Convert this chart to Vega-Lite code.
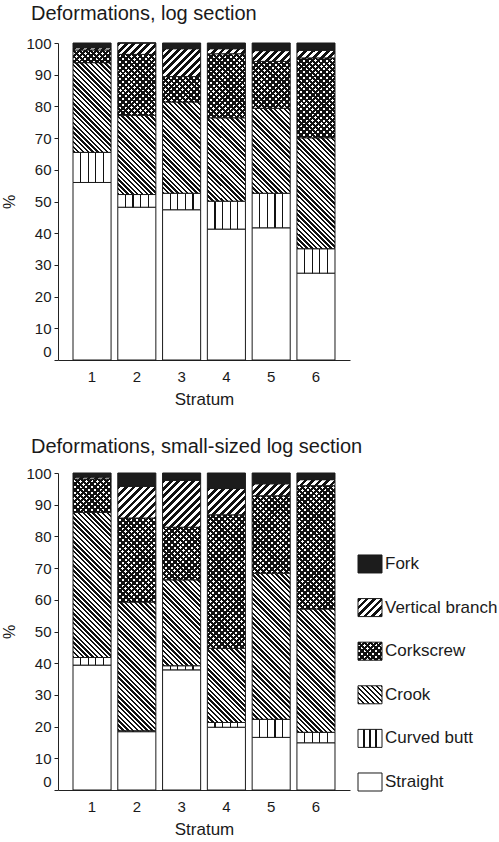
{
  "$schema": "https://vega.github.io/schema/vega-lite/v6.json",
  "background": "white",
  "padding": {"left": 1, "top": 4, "right": 0, "bottom": 0},
  "config": {
    "font": "Liberation Sans",
    "view": {"stroke": null},
    "axis": {"labelFont": "Liberation Sans", "titleFont": "Liberation Sans", "labelColor": "#1a1a1a", "titleColor": "#1a1a1a", "titleFontWeight": "normal", "domainColor": "#222", "tickColor": "#222", "grid": false},
    "title": {"font": "Liberation Sans", "fontSize": 20, "fontWeight": "normal", "color": "#1a1a1a", "anchor": "start", "frame": "group", "baseline": "alphabetic"}
  },
  "params": [
    {"name": "sBW", "value": [
      {"offset":0,"color":"#111"},{"offset":0.0125,"color":"#111"},{"offset":0.0125,"color":"#fff"},{"offset":0.025,"color":"#fff"},
      {"offset":0.025,"color":"#111"},{"offset":0.0375,"color":"#111"},{"offset":0.0375,"color":"#fff"},{"offset":0.05,"color":"#fff"},
      {"offset":0.05,"color":"#111"},{"offset":0.0625,"color":"#111"},{"offset":0.0625,"color":"#fff"},{"offset":0.075,"color":"#fff"},
      {"offset":0.075,"color":"#111"},{"offset":0.0875,"color":"#111"},{"offset":0.0875,"color":"#fff"},{"offset":0.1,"color":"#fff"},
      {"offset":0.1,"color":"#111"},{"offset":0.1125,"color":"#111"},{"offset":0.1125,"color":"#fff"},{"offset":0.125,"color":"#fff"},
      {"offset":0.125,"color":"#111"},{"offset":0.1375,"color":"#111"},{"offset":0.1375,"color":"#fff"},{"offset":0.15,"color":"#fff"},
      {"offset":0.15,"color":"#111"},{"offset":0.1625,"color":"#111"},{"offset":0.1625,"color":"#fff"},{"offset":0.175,"color":"#fff"},
      {"offset":0.175,"color":"#111"},{"offset":0.1875,"color":"#111"},{"offset":0.1875,"color":"#fff"},{"offset":0.2,"color":"#fff"},
      {"offset":0.2,"color":"#111"},{"offset":0.2125,"color":"#111"},{"offset":0.2125,"color":"#fff"},{"offset":0.225,"color":"#fff"},
      {"offset":0.225,"color":"#111"},{"offset":0.2375,"color":"#111"},{"offset":0.2375,"color":"#fff"},{"offset":0.25,"color":"#fff"},
      {"offset":0.25,"color":"#111"},{"offset":0.2625,"color":"#111"},{"offset":0.2625,"color":"#fff"},{"offset":0.275,"color":"#fff"},
      {"offset":0.275,"color":"#111"},{"offset":0.2875,"color":"#111"},{"offset":0.2875,"color":"#fff"},{"offset":0.3,"color":"#fff"},
      {"offset":0.3,"color":"#111"},{"offset":0.3125,"color":"#111"},{"offset":0.3125,"color":"#fff"},{"offset":0.325,"color":"#fff"},
      {"offset":0.325,"color":"#111"},{"offset":0.3375,"color":"#111"},{"offset":0.3375,"color":"#fff"},{"offset":0.35,"color":"#fff"},
      {"offset":0.35,"color":"#111"},{"offset":0.3625,"color":"#111"},{"offset":0.3625,"color":"#fff"},{"offset":0.375,"color":"#fff"},
      {"offset":0.375,"color":"#111"},{"offset":0.3875,"color":"#111"},{"offset":0.3875,"color":"#fff"},{"offset":0.4,"color":"#fff"},
      {"offset":0.4,"color":"#111"},{"offset":0.4125,"color":"#111"},{"offset":0.4125,"color":"#fff"},{"offset":0.425,"color":"#fff"},
      {"offset":0.425,"color":"#111"},{"offset":0.4375,"color":"#111"},{"offset":0.4375,"color":"#fff"},{"offset":0.45,"color":"#fff"},
      {"offset":0.45,"color":"#111"},{"offset":0.4625,"color":"#111"},{"offset":0.4625,"color":"#fff"},{"offset":0.475,"color":"#fff"},
      {"offset":0.475,"color":"#111"},{"offset":0.4875,"color":"#111"},{"offset":0.4875,"color":"#fff"},{"offset":0.5,"color":"#fff"},
      {"offset":0.5,"color":"#111"},{"offset":0.5125,"color":"#111"},{"offset":0.5125,"color":"#fff"},{"offset":0.525,"color":"#fff"},
      {"offset":0.525,"color":"#111"},{"offset":0.5375,"color":"#111"},{"offset":0.5375,"color":"#fff"},{"offset":0.55,"color":"#fff"},
      {"offset":0.55,"color":"#111"},{"offset":0.5625,"color":"#111"},{"offset":0.5625,"color":"#fff"},{"offset":0.575,"color":"#fff"},
      {"offset":0.575,"color":"#111"},{"offset":0.5875,"color":"#111"},{"offset":0.5875,"color":"#fff"},{"offset":0.6,"color":"#fff"},
      {"offset":0.6,"color":"#111"},{"offset":0.6125,"color":"#111"},{"offset":0.6125,"color":"#fff"},{"offset":0.625,"color":"#fff"},
      {"offset":0.625,"color":"#111"},{"offset":0.6375,"color":"#111"},{"offset":0.6375,"color":"#fff"},{"offset":0.65,"color":"#fff"},
      {"offset":0.65,"color":"#111"},{"offset":0.6625,"color":"#111"},{"offset":0.6625,"color":"#fff"},{"offset":0.675,"color":"#fff"},
      {"offset":0.675,"color":"#111"},{"offset":0.6875,"color":"#111"},{"offset":0.6875,"color":"#fff"},{"offset":0.7,"color":"#fff"},
      {"offset":0.7,"color":"#111"},{"offset":0.7125,"color":"#111"},{"offset":0.7125,"color":"#fff"},{"offset":0.725,"color":"#fff"},
      {"offset":0.725,"color":"#111"},{"offset":0.7375,"color":"#111"},{"offset":0.7375,"color":"#fff"},{"offset":0.75,"color":"#fff"},
      {"offset":0.75,"color":"#111"},{"offset":0.7625,"color":"#111"},{"offset":0.7625,"color":"#fff"},{"offset":0.775,"color":"#fff"},
      {"offset":0.775,"color":"#111"},{"offset":0.7875,"color":"#111"},{"offset":0.7875,"color":"#fff"},{"offset":0.8,"color":"#fff"},
      {"offset":0.8,"color":"#111"},{"offset":0.8125,"color":"#111"},{"offset":0.8125,"color":"#fff"},{"offset":0.825,"color":"#fff"},
      {"offset":0.825,"color":"#111"},{"offset":0.8375,"color":"#111"},{"offset":0.8375,"color":"#fff"},{"offset":0.85,"color":"#fff"},
      {"offset":0.85,"color":"#111"},{"offset":0.8625,"color":"#111"},{"offset":0.8625,"color":"#fff"},{"offset":0.875,"color":"#fff"},
      {"offset":0.875,"color":"#111"},{"offset":0.8875,"color":"#111"},{"offset":0.8875,"color":"#fff"},{"offset":0.9,"color":"#fff"},
      {"offset":0.9,"color":"#111"},{"offset":0.9125,"color":"#111"},{"offset":0.9125,"color":"#fff"},{"offset":0.925,"color":"#fff"},
      {"offset":0.925,"color":"#111"},{"offset":0.9375,"color":"#111"},{"offset":0.9375,"color":"#fff"},{"offset":0.95,"color":"#fff"},
      {"offset":0.95,"color":"#111"},{"offset":0.9625,"color":"#111"},{"offset":0.9625,"color":"#fff"},{"offset":0.975,"color":"#fff"},
      {"offset":0.975,"color":"#111"},{"offset":0.9875,"color":"#111"},{"offset":0.9875,"color":"#fff"},{"offset":1,"color":"#fff"}
    ]},
    {"name": "sBT", "value": [
      {"offset":0,"color":"#111"},{"offset":0.0125,"color":"#111"},{"offset":0.0125,"color":"transparent"},{"offset":0.025,"color":"transparent"},
      {"offset":0.025,"color":"#111"},{"offset":0.0375,"color":"#111"},{"offset":0.0375,"color":"transparent"},{"offset":0.05,"color":"transparent"},
      {"offset":0.05,"color":"#111"},{"offset":0.0625,"color":"#111"},{"offset":0.0625,"color":"transparent"},{"offset":0.075,"color":"transparent"},
      {"offset":0.075,"color":"#111"},{"offset":0.0875,"color":"#111"},{"offset":0.0875,"color":"transparent"},{"offset":0.1,"color":"transparent"},
      {"offset":0.1,"color":"#111"},{"offset":0.1125,"color":"#111"},{"offset":0.1125,"color":"transparent"},{"offset":0.125,"color":"transparent"},
      {"offset":0.125,"color":"#111"},{"offset":0.1375,"color":"#111"},{"offset":0.1375,"color":"transparent"},{"offset":0.15,"color":"transparent"},
      {"offset":0.15,"color":"#111"},{"offset":0.1625,"color":"#111"},{"offset":0.1625,"color":"transparent"},{"offset":0.175,"color":"transparent"},
      {"offset":0.175,"color":"#111"},{"offset":0.1875,"color":"#111"},{"offset":0.1875,"color":"transparent"},{"offset":0.2,"color":"transparent"},
      {"offset":0.2,"color":"#111"},{"offset":0.2125,"color":"#111"},{"offset":0.2125,"color":"transparent"},{"offset":0.225,"color":"transparent"},
      {"offset":0.225,"color":"#111"},{"offset":0.2375,"color":"#111"},{"offset":0.2375,"color":"transparent"},{"offset":0.25,"color":"transparent"},
      {"offset":0.25,"color":"#111"},{"offset":0.2625,"color":"#111"},{"offset":0.2625,"color":"transparent"},{"offset":0.275,"color":"transparent"},
      {"offset":0.275,"color":"#111"},{"offset":0.2875,"color":"#111"},{"offset":0.2875,"color":"transparent"},{"offset":0.3,"color":"transparent"},
      {"offset":0.3,"color":"#111"},{"offset":0.3125,"color":"#111"},{"offset":0.3125,"color":"transparent"},{"offset":0.325,"color":"transparent"},
      {"offset":0.325,"color":"#111"},{"offset":0.3375,"color":"#111"},{"offset":0.3375,"color":"transparent"},{"offset":0.35,"color":"transparent"},
      {"offset":0.35,"color":"#111"},{"offset":0.3625,"color":"#111"},{"offset":0.3625,"color":"transparent"},{"offset":0.375,"color":"transparent"},
      {"offset":0.375,"color":"#111"},{"offset":0.3875,"color":"#111"},{"offset":0.3875,"color":"transparent"},{"offset":0.4,"color":"transparent"},
      {"offset":0.4,"color":"#111"},{"offset":0.4125,"color":"#111"},{"offset":0.4125,"color":"transparent"},{"offset":0.425,"color":"transparent"},
      {"offset":0.425,"color":"#111"},{"offset":0.4375,"color":"#111"},{"offset":0.4375,"color":"transparent"},{"offset":0.45,"color":"transparent"},
      {"offset":0.45,"color":"#111"},{"offset":0.4625,"color":"#111"},{"offset":0.4625,"color":"transparent"},{"offset":0.475,"color":"transparent"},
      {"offset":0.475,"color":"#111"},{"offset":0.4875,"color":"#111"},{"offset":0.4875,"color":"transparent"},{"offset":0.5,"color":"transparent"},
      {"offset":0.5,"color":"#111"},{"offset":0.5125,"color":"#111"},{"offset":0.5125,"color":"transparent"},{"offset":0.525,"color":"transparent"},
      {"offset":0.525,"color":"#111"},{"offset":0.5375,"color":"#111"},{"offset":0.5375,"color":"transparent"},{"offset":0.55,"color":"transparent"},
      {"offset":0.55,"color":"#111"},{"offset":0.5625,"color":"#111"},{"offset":0.5625,"color":"transparent"},{"offset":0.575,"color":"transparent"},
      {"offset":0.575,"color":"#111"},{"offset":0.5875,"color":"#111"},{"offset":0.5875,"color":"transparent"},{"offset":0.6,"color":"transparent"},
      {"offset":0.6,"color":"#111"},{"offset":0.6125,"color":"#111"},{"offset":0.6125,"color":"transparent"},{"offset":0.625,"color":"transparent"},
      {"offset":0.625,"color":"#111"},{"offset":0.6375,"color":"#111"},{"offset":0.6375,"color":"transparent"},{"offset":0.65,"color":"transparent"},
      {"offset":0.65,"color":"#111"},{"offset":0.6625,"color":"#111"},{"offset":0.6625,"color":"transparent"},{"offset":0.675,"color":"transparent"},
      {"offset":0.675,"color":"#111"},{"offset":0.6875,"color":"#111"},{"offset":0.6875,"color":"transparent"},{"offset":0.7,"color":"transparent"},
      {"offset":0.7,"color":"#111"},{"offset":0.7125,"color":"#111"},{"offset":0.7125,"color":"transparent"},{"offset":0.725,"color":"transparent"},
      {"offset":0.725,"color":"#111"},{"offset":0.7375,"color":"#111"},{"offset":0.7375,"color":"transparent"},{"offset":0.75,"color":"transparent"},
      {"offset":0.75,"color":"#111"},{"offset":0.7625,"color":"#111"},{"offset":0.7625,"color":"transparent"},{"offset":0.775,"color":"transparent"},
      {"offset":0.775,"color":"#111"},{"offset":0.7875,"color":"#111"},{"offset":0.7875,"color":"transparent"},{"offset":0.8,"color":"transparent"},
      {"offset":0.8,"color":"#111"},{"offset":0.8125,"color":"#111"},{"offset":0.8125,"color":"transparent"},{"offset":0.825,"color":"transparent"},
      {"offset":0.825,"color":"#111"},{"offset":0.8375,"color":"#111"},{"offset":0.8375,"color":"transparent"},{"offset":0.85,"color":"transparent"},
      {"offset":0.85,"color":"#111"},{"offset":0.8625,"color":"#111"},{"offset":0.8625,"color":"transparent"},{"offset":0.875,"color":"transparent"},
      {"offset":0.875,"color":"#111"},{"offset":0.8875,"color":"#111"},{"offset":0.8875,"color":"transparent"},{"offset":0.9,"color":"transparent"},
      {"offset":0.9,"color":"#111"},{"offset":0.9125,"color":"#111"},{"offset":0.9125,"color":"transparent"},{"offset":0.925,"color":"transparent"},
      {"offset":0.925,"color":"#111"},{"offset":0.9375,"color":"#111"},{"offset":0.9375,"color":"transparent"},{"offset":0.95,"color":"transparent"},
      {"offset":0.95,"color":"#111"},{"offset":0.9625,"color":"#111"},{"offset":0.9625,"color":"transparent"},{"offset":0.975,"color":"transparent"},
      {"offset":0.975,"color":"#111"},{"offset":0.9875,"color":"#111"},{"offset":0.9875,"color":"transparent"},{"offset":1,"color":"transparent"}
    ]},
    {"name": "sCB5", "value": [
      {"offset":0,"color":"#fff"},{"offset":0.185,"color":"#fff"},{"offset":0.185,"color":"#111"},{"offset":0.215,"color":"#111"},{"offset":0.215,"color":"#fff"},
      {"offset":0.385,"color":"#fff"},{"offset":0.385,"color":"#111"},{"offset":0.415,"color":"#111"},{"offset":0.415,"color":"#fff"},
      {"offset":0.585,"color":"#fff"},{"offset":0.585,"color":"#111"},{"offset":0.615,"color":"#111"},{"offset":0.615,"color":"#fff"},
      {"offset":0.785,"color":"#fff"},{"offset":0.785,"color":"#111"},{"offset":0.815,"color":"#111"},{"offset":0.815,"color":"#fff"},{"offset":1,"color":"#fff"}
    ]},
    {"name": "sCB4", "value": [
      {"offset":0,"color":"#fff"},{"offset":0.2275,"color":"#fff"},{"offset":0.2275,"color":"#111"},{"offset":0.2725,"color":"#111"},{"offset":0.2725,"color":"#fff"},
      {"offset":0.4775,"color":"#fff"},{"offset":0.4775,"color":"#111"},{"offset":0.5225,"color":"#111"},{"offset":0.5225,"color":"#fff"},
      {"offset":0.7275,"color":"#fff"},{"offset":0.7275,"color":"#111"},{"offset":0.7725,"color":"#111"},{"offset":0.7725,"color":"#fff"},{"offset":1,"color":"#fff"}
    ]}
  ],
  "datasets": {
    "d": [
      {"panel":"A","stratum":1,"type":"Straight","pct":56},
      {"panel":"A","stratum":1,"type":"Curved butt","pct":9.5},
      {"panel":"A","stratum":1,"type":"Crook","pct":28.3},
      {"panel":"A","stratum":1,"type":"Corkscrew","pct":4},
      {"panel":"A","stratum":1,"type":"Vertical branch","pct":0.7},
      {"panel":"A","stratum":1,"type":"Fork","pct":1.5},
      {"panel":"A","stratum":2,"type":"Straight","pct":48.2},
      {"panel":"A","stratum":2,"type":"Curved butt","pct":4.0},
      {"panel":"A","stratum":2,"type":"Crook","pct":25.0},
      {"panel":"A","stratum":2,"type":"Corkscrew","pct":19.2},
      {"panel":"A","stratum":2,"type":"Vertical branch","pct":3.6},
      {"panel":"A","stratum":2,"type":"Fork","pct":0},
      {"panel":"A","stratum":3,"type":"Straight","pct":47.4},
      {"panel":"A","stratum":3,"type":"Curved butt","pct":5.2},
      {"panel":"A","stratum":3,"type":"Crook","pct":28.8},
      {"panel":"A","stratum":3,"type":"Corkscrew","pct":8.0},
      {"panel":"A","stratum":3,"type":"Vertical branch","pct":8.8},
      {"panel":"A","stratum":3,"type":"Fork","pct":1.8},
      {"panel":"A","stratum":4,"type":"Straight","pct":41.3},
      {"panel":"A","stratum":4,"type":"Curved butt","pct":8.8},
      {"panel":"A","stratum":4,"type":"Crook","pct":26.3},
      {"panel":"A","stratum":4,"type":"Corkscrew","pct":20.2},
      {"panel":"A","stratum":4,"type":"Vertical branch","pct":1.6},
      {"panel":"A","stratum":4,"type":"Fork","pct":1.8},
      {"panel":"A","stratum":5,"type":"Straight","pct":41.7},
      {"panel":"A","stratum":5,"type":"Curved butt","pct":10.9},
      {"panel":"A","stratum":5,"type":"Crook","pct":26.8},
      {"panel":"A","stratum":5,"type":"Corkscrew","pct":14.8},
      {"panel":"A","stratum":5,"type":"Vertical branch","pct":3.4},
      {"panel":"A","stratum":5,"type":"Fork","pct":2.4},
      {"panel":"A","stratum":6,"type":"Straight","pct":27.4},
      {"panel":"A","stratum":6,"type":"Curved butt","pct":7.7},
      {"panel":"A","stratum":6,"type":"Crook","pct":35.0},
      {"panel":"A","stratum":6,"type":"Corkscrew","pct":25.2},
      {"panel":"A","stratum":6,"type":"Vertical branch","pct":2.4},
      {"panel":"A","stratum":6,"type":"Fork","pct":2.3},
      {"panel":"B","stratum":1,"type":"Straight","pct":39.4},
      {"panel":"B","stratum":1,"type":"Curved butt","pct":2.4},
      {"panel":"B","stratum":1,"type":"Crook","pct":45.8},
      {"panel":"B","stratum":1,"type":"Corkscrew","pct":10.5},
      {"panel":"B","stratum":1,"type":"Vertical branch","pct":0.6},
      {"panel":"B","stratum":1,"type":"Fork","pct":1.3},
      {"panel":"B","stratum":2,"type":"Straight","pct":18.4},
      {"panel":"B","stratum":2,"type":"Curved butt","pct":0.3},
      {"panel":"B","stratum":2,"type":"Crook","pct":40.6},
      {"panel":"B","stratum":2,"type":"Corkscrew","pct":26.5},
      {"panel":"B","stratum":2,"type":"Vertical branch","pct":10.0},
      {"panel":"B","stratum":2,"type":"Fork","pct":4.2},
      {"panel":"B","stratum":3,"type":"Straight","pct":37.9},
      {"panel":"B","stratum":3,"type":"Curved butt","pct":1.3},
      {"panel":"B","stratum":3,"type":"Crook","pct":27.1},
      {"panel":"B","stratum":3,"type":"Corkscrew","pct":16.6},
      {"panel":"B","stratum":3,"type":"Vertical branch","pct":14.8},
      {"panel":"B","stratum":3,"type":"Fork","pct":2.3},
      {"panel":"B","stratum":4,"type":"Straight","pct":19.8},
      {"panel":"B","stratum":4,"type":"Curved butt","pct":1.5},
      {"panel":"B","stratum":4,"type":"Crook","pct":23.4},
      {"panel":"B","stratum":4,"type":"Corkscrew","pct":42.1},
      {"panel":"B","stratum":4,"type":"Vertical branch","pct":8.3},
      {"panel":"B","stratum":4,"type":"Fork","pct":4.9},
      {"panel":"B","stratum":5,"type":"Straight","pct":16.6},
      {"panel":"B","stratum":5,"type":"Curved butt","pct":5.7},
      {"panel":"B","stratum":5,"type":"Crook","pct":46.1},
      {"panel":"B","stratum":5,"type":"Corkscrew","pct":24.4},
      {"panel":"B","stratum":5,"type":"Vertical branch","pct":3.8},
      {"panel":"B","stratum":5,"type":"Fork","pct":3.4},
      {"panel":"B","stratum":6,"type":"Straight","pct":14.9},
      {"panel":"B","stratum":6,"type":"Curved butt","pct":3.3},
      {"panel":"B","stratum":6,"type":"Crook","pct":38.9},
      {"panel":"B","stratum":6,"type":"Corkscrew","pct":38.9},
      {"panel":"B","stratum":6,"type":"Vertical branch","pct":1.9},
      {"panel":"B","stratum":6,"type":"Fork","pct":2.1}
    ]
  },
  "spacing": 30,
  "vconcat": [
    {
      "data": {"name": "d"},
      "transform": [
        {"filter": "datum.panel === 'A'"},
        {"stack": "pct", "groupby": ["stratum"], "as": ["v0", "v1"]}
      ],
      "width": 292,
      "height": 317,
      "title": {"text": "Deformations, log section", "dx": -27, "offset": 12},
      "encoding": {
        "x": {"field": "stratum", "type": "ordinal", "scale": {"paddingInner": 0.15, "paddingOuter": 0.335},
              "axis": {"title": "Stratum", "labelAngle": 0, "ticks": false, "labelPadding": 9, "labelFontSize": 15, "titleFontSize": 17, "titlePadding": 7}},
        "y": {"field": "v0", "type": "quantitative", "scale": {"domain": [0, 100], "nice": false},
              "axis": {"title": "%", "values": [0,10,20,30,40,50,60,70,80,90,100], "tickSize": 4, "labelPadding": 3, "labelFontSize": 15, "titleFontSize": 16, "titlePadding": 8,
                       "labelOffset": {"condition": {"test": "datum.value === 0", "value": -9}, "value": 0}}},
        "y2": {"field": "v1"}
      },
      "layer": [
        {"mark": {"type": "bar", "stroke": "#1a1a1a", "strokeWidth": 1,
          "fill": {"expr": "datum.type==='Fork'?'#1c1c1c':datum.type==='Straight'?'#ffffff':datum.type==='Curved butt'?{gradient:'linear',x1:0,y1:0,x2:1,y2:0,stops:sCB5}:datum.type==='Crook'?{gradient:'linear',x1:0,y1:1,x2:7296/(1444+pow((datum.v1-datum.v0)*3.17,2)),y2:1-608.64*(datum.v1-datum.v0)/(1444+pow((datum.v1-datum.v0)*3.17,2)),stops:sBW}:datum.type==='Corkscrew'?{gradient:'linear',x1:0,y1:0,x2:8664/(1444+pow((datum.v1-datum.v0)*3.17,2)),y2:722.76*(datum.v1-datum.v0)/(1444+pow((datum.v1-datum.v0)*3.17,2)),stops:sBW}:{gradient:'linear',x1:0,y1:0,x2:11400/(1444+pow((datum.v1-datum.v0)*3.17,2)),y2:951*(datum.v1-datum.v0)/(1444+pow((datum.v1-datum.v0)*3.17,2)),stops:sBW}"}}},
        {"transform": [{"filter": "datum.type === 'Corkscrew'"}],
         "mark": {"type": "bar", "strokeWidth": 0,
          "fill": {"expr": "{gradient:'linear',x1:0,y1:1,x2:8664/(1444+pow((datum.v1-datum.v0)*3.17,2)),y2:1-722.76*(datum.v1-datum.v0)/(1444+pow((datum.v1-datum.v0)*3.17,2)),stops:sBT}"}}}
      ]
    },
    {
      "bounds": "flush",
      "spacing": 8,
      "hconcat": [
        {
          "data": {"name": "d"},
          "transform": [
            {"filter": "datum.panel === 'B'"},
            {"stack": "pct", "groupby": ["stratum"], "as": ["v0", "v1"]}
          ],
          "width": 292,
          "height": 317,
          "title": {"text": "Deformations, small-sized log section", "dx": -27, "offset": 9},
          "encoding": {
            "x": {"field": "stratum", "type": "ordinal", "scale": {"paddingInner": 0.15, "paddingOuter": 0.335},
                  "axis": {"title": "Stratum", "labelAngle": 0, "ticks": false, "labelPadding": 9, "labelFontSize": 15, "titleFontSize": 17, "titlePadding": 7}},
            "y": {"field": "v0", "type": "quantitative", "scale": {"domain": [0, 100], "nice": false},
                  "axis": {"title": "%", "values": [0,10,20,30,40,50,60,70,80,90,100], "tickSize": 4, "labelPadding": 3, "labelFontSize": 15, "titleFontSize": 16, "titlePadding": 8,
                           "labelOffset": {"condition": {"test": "datum.value === 0", "value": -9}, "value": 0}}},
            "y2": {"field": "v1"}
          },
          "layer": [
            {"mark": {"type": "bar", "stroke": "#1a1a1a", "strokeWidth": 1,
              "fill": {"expr": "datum.type==='Fork'?'#1c1c1c':datum.type==='Straight'?'#ffffff':datum.type==='Curved butt'?{gradient:'linear',x1:0,y1:0,x2:1,y2:0,stops:sCB5}:datum.type==='Crook'?{gradient:'linear',x1:0,y1:1,x2:7296/(1444+pow((datum.v1-datum.v0)*3.17,2)),y2:1-608.64*(datum.v1-datum.v0)/(1444+pow((datum.v1-datum.v0)*3.17,2)),stops:sBW}:datum.type==='Corkscrew'?{gradient:'linear',x1:0,y1:0,x2:8664/(1444+pow((datum.v1-datum.v0)*3.17,2)),y2:722.76*(datum.v1-datum.v0)/(1444+pow((datum.v1-datum.v0)*3.17,2)),stops:sBW}:{gradient:'linear',x1:0,y1:0,x2:11400/(1444+pow((datum.v1-datum.v0)*3.17,2)),y2:951*(datum.v1-datum.v0)/(1444+pow((datum.v1-datum.v0)*3.17,2)),stops:sBW}"}}},
            {"transform": [{"filter": "datum.type === 'Corkscrew'"}],
             "mark": {"type": "bar", "strokeWidth": 0,
              "fill": {"expr": "{gradient:'linear',x1:0,y1:1,x2:8664/(1444+pow((datum.v1-datum.v0)*3.17,2)),y2:1-722.76*(datum.v1-datum.v0)/(1444+pow((datum.v1-datum.v0)*3.17,2)),stops:sBT}"}}}
          ]
        },
        {
          "data": {"values": [{"type":"Fork"},{"type":"Vertical branch"},{"type":"Corkscrew"},{"type":"Crook"},{"type":"Curved butt"},{"type":"Straight"}]},
          "width": 24,
          "height": 318,
          "encoding": {
            "y": {"field": "type", "type": "nominal", "axis": null,
                  "scale": {"domain": ["Fork","Vertical branch","Corkscrew","Crook","Curved butt","Straight"], "paddingInner": 0.587, "paddingOuter": 0.94, "align": 1}}
          },
          "layer": [
            {"mark": {"type": "rect", "stroke": "#1a1a1a", "strokeWidth": 1,
              "fill": {"expr": "datum.type==='Fork'?'#1c1c1c':datum.type==='Straight'?'#ffffff':datum.type==='Curved butt'?{gradient:'linear',x1:0,y1:0,x2:1,y2:0,stops:sCB4}:datum.type==='Crook'?{gradient:'linear',x1:0,y1:1,x2:5.333,y2:-3,stops:sBW}:datum.type==='Corkscrew'?{gradient:'linear',x1:0,y1:0,x2:6.08,y2:4.56,stops:sBW}:{gradient:'linear',x1:0,y1:0,x2:8,y2:6,stops:sBW}"}}},
            {"transform": [{"filter": "datum.type === 'Corkscrew'"}],
             "mark": {"type": "rect", "strokeWidth": 0,
              "fill": {"expr": "{gradient:'linear',x1:0,y1:1,x2:6.08,y2:-3.56,stops:sBT}"}}},
            {"mark": {"type": "text", "align": "left", "baseline": "middle", "dx": 15, "fontSize": 17, "color": "#1a1a1a", "font": "Liberation Sans"},
             "encoding": {"text": {"field": "type"}}}
          ]
        }
      ]
    }
  ]
}
